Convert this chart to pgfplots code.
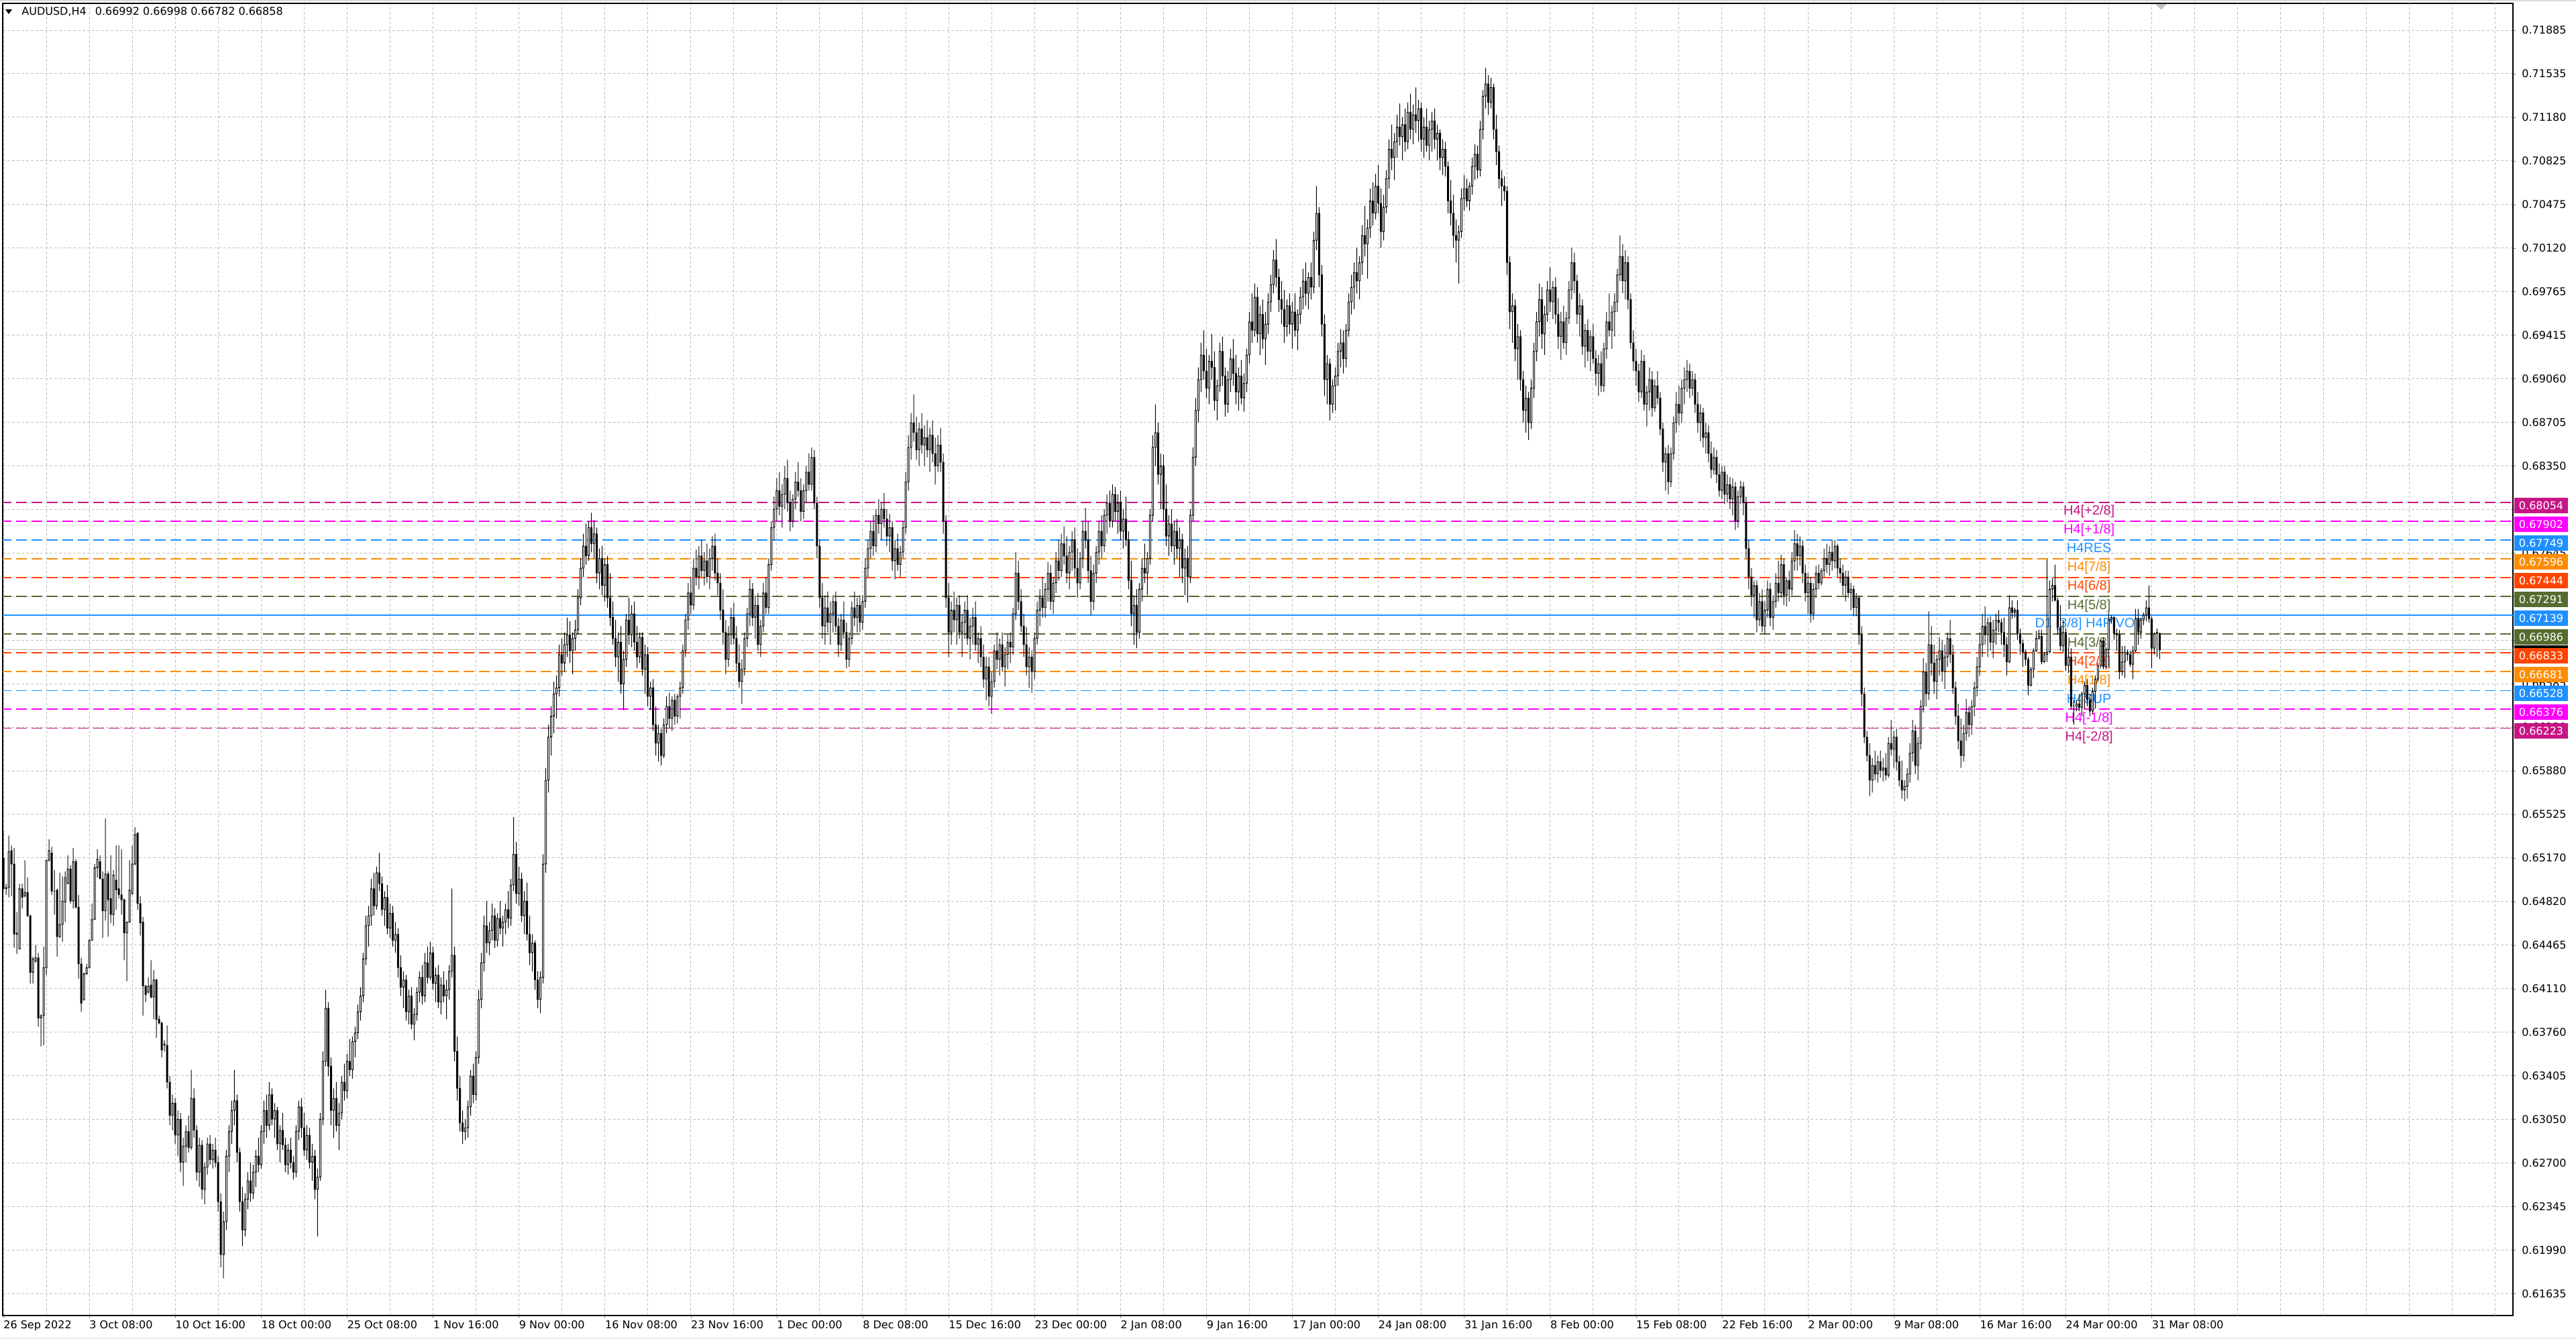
\documentclass[border=0pt]{standalone}
\usepackage{pgfplots}
\pgfplotsset{compat=1.18}
\usepackage{pgfplotstable}
\usepackage{fontspec}
\newfontfamily\dv{DejaVu Sans}
\newfontfamily\lib{Liberation Sans}
\definecolor{mvr}{HTML}{C71585}
\definecolor{mag}{HTML}{FF00FF}
\definecolor{dod}{HTML}{1E90FF}
\definecolor{dor}{HTML}{FF8C00}
\definecolor{orr}{HTML}{FF4500}
\definecolor{olv}{HTML}{556B2F}
\definecolor{grd}{HTML}{C0C0C0}
\pgfplotsset{
  frame/.style={at={(0pt,0pt)}, anchor=south west, scale only axis, width=1871pt, height=978pt,
    xmin=-0.25, xmax=934.55, ymin=6145.7, ymax=7210.3},
  candles/.style={frame, hide axis, ybar stacked, clip=true},
  lvl/.style={line width=0.75pt, dash pattern=on 8pt off 3.5pt},
}
% AUDUSD H4, prices in pips (0.6517 -> 6517)
\pgfplotstableread{
x o h l c
0 6517 6539 6491 6492
1 6492 6496 6487 6493
2 6493 6535 6485 6522
3 6523 6527 6486 6512
4 6512 6525 6444 6455
5 6455 6473 6439 6456
6 6443 6496 6443 6492
7 6492 6496 6476 6485
8 6486 6515 6485 6489
9 6489 6501 6469 6470
10 6470 6471 6415 6424
11 6424 6437 6415 6435
12 6433 6446 6432 6436
13 6436 6440 6380 6387
14 6387 6390 6364 6389
15 6389 6445 6365 6428
16 6428 6515 6422 6515
17 6515 6532 6514 6523
18 6521 6526 6487 6490
19 6490 6507 6471 6490
20 6491 6492 6437 6453
21 6453 6505 6452 6463
22 6463 6502 6449 6482
23 6481 6506 6465 6501
24 6496 6519 6496 6508
25 6508 6511 6480 6482
26 6482 6525 6476 6514
27 6514 6516 6476 6477
28 6477 6487 6419 6431
29 6431 6436 6392 6399
30 6402 6424 6401 6423
31 6423 6431 6422 6428
32 6428 6451 6427 6450
33 6450 6480 6450 6467
34 6467 6512 6467 6509
35 6509 6524 6501 6516
36 6514 6519 6500 6500
37 6500 6506 6452 6474
38 6474 6549 6466 6504
39 6504 6506 6453 6483
40 6484 6519 6464 6471
41 6471 6507 6462 6503
42 6499 6527 6475 6491
43 6492 6527 6484 6487
44 6487 6524 6471 6483
45 6483 6484 6434 6456
46 6456 6465 6417 6465
47 6465 6515 6464 6491
48 6488 6527 6487 6512
49 6512 6542 6511 6536
50 6537 6538 6475 6480
51 6480 6486 6454 6464
52 6465 6469 6389 6413
53 6413 6414 6400 6406
54 6408 6420 6407 6413
55 6414 6434 6403 6404
56 6404 6426 6386 6418
57 6418 6419 6371 6386
58 6386 6389 6382 6383
59 6383 6384 6355 6361
60 6366 6369 6360 6365
61 6365 6381 6330 6335
62 6335 6340 6300 6308
63 6308 6325 6296 6318
64 6318 6322 6285 6292
65 6292 6312 6275 6305
66 6305 6310 6262 6270
67 6270 6290 6251 6283
68 6283 6300 6270 6295
69 6295 6308 6278 6282
70 6282 6345 6280 6322
71 6322 6330 6290 6296
72 6296 6300 6255 6262
73 6262 6290 6250 6284
74 6284 6288 6240 6248
75 6248 6270 6236 6266
76 6266 6290 6260 6285
77 6285 6292 6268 6272
78 6272 6285 6265 6280
79 6280 6290 6266 6270
80 6270 6275 6230 6238
81 6238 6245 6185 6195
82 6195 6230 6176 6222
83 6222 6280 6215 6275
84 6275 6300 6262 6295
85 6295 6320 6285 6312
86 6312 6345 6300 6320
87 6320 6325 6270 6278
88 6278 6282 6230 6238
89 6238 6250 6202 6215
90 6215 6245 6210 6240
91 6240 6262 6232 6255
92 6255 6270 6238 6245
93 6245 6268 6240 6262
94 6262 6280 6250 6275
95 6275 6290 6262 6268
96 6268 6300 6265 6295
97 6295 6320 6285 6312
98 6312 6325 6290 6300
99 6300 6335 6296 6325
100 6325 6330 6300 6305
101 6305 6318 6290 6312
102 6312 6315 6280 6285
103 6285 6300 6270 6296
104 6296 6310 6280 6284
105 6284 6290 6262 6268
106 6268 6285 6260 6280
107 6280 6290 6265 6270
108 6270 6275 6256 6262
109 6262 6300 6258 6295
110 6295 6320 6288 6315
111 6315 6322 6290 6298
112 6298 6310 6275 6280
113 6280 6300 6272 6292
114 6292 6298 6265 6270
115 6270 6285 6255 6275
116 6275 6280 6240 6248
117 6248 6265 6210 6258
118 6258 6310 6255 6305
119 6305 6360 6300 6352
120 6352 6410 6348 6395
121 6395 6400 6340 6348
122 6348 6355 6300 6312
123 6312 6330 6290 6322
124 6322 6335 6295 6300
125 6300 6318 6280 6310
126 6310 6340 6305 6335
127 6335 6350 6320 6328
128 6328 6358 6322 6352
129 6352 6370 6340 6345
130 6345 6372 6338 6368
131 6368 6380 6355 6375
132 6375 6398 6370 6392
133 6392 6412 6385 6405
134 6405 6440 6400 6435
135 6435 6470 6430 6462
136 6462 6478 6445 6470
137 6470 6500 6462 6492
138 6492 6505 6470 6478
139 6478 6510 6475 6505
140 6505 6521 6490 6496
141 6496 6502 6470 6475
142 6475 6490 6462 6485
143 6485 6495 6455 6460
144 6460 6480 6452 6472
145 6472 6478 6445 6450
146 6450 6465 6440 6455
147 6455 6460 6420 6428
148 6428 6438 6405 6412
149 6412 6425 6395 6418
150 6418 6422 6385 6392
151 6392 6410 6382 6405
152 6405 6412 6378 6382
153 6382 6395 6369 6390
154 6390 6412 6385 6408
155 6408 6425 6400 6420
156 6420 6430 6398 6405
157 6405 6440 6400 6432
158 6432 6445 6415 6420
159 6420 6449 6418 6440
160 6440 6445 6410 6415
161 6415 6428 6400 6422
162 6422 6430 6395 6400
163 6400 6420 6390 6414
164 6414 6425 6400 6405
165 6405 6418 6386 6410
166 6410 6430 6402 6425
167 6425 6492 6420 6438
168 6438 6445 6352 6360
169 6360 6372 6320 6330
170 6330 6340 6295 6302
171 6302 6312 6285 6295
172 6295 6305 6288 6298
173 6298 6320 6290 6315
174 6315 6345 6308 6340
175 6340 6350 6318 6325
176 6325 6360 6320 6355
177 6355 6410 6350 6402
178 6402 6440 6395 6432
179 6432 6470 6425 6462
180 6462 6482 6440 6448
181 6448 6465 6438 6458
182 6458 6480 6450 6470
183 6470 6476 6444 6450
184 6450 6472 6445 6468
185 6468 6482 6455 6460
186 6460 6470 6445 6465
187 6465 6480 6455 6475
188 6475 6490 6460 6468
189 6468 6500 6462 6495
190 6495 6550 6490 6520
191 6520 6530 6480 6488
192 6488 6510 6478 6500
193 6500 6505 6465 6470
194 6470 6490 6455 6482
195 6482 6497 6450 6455
196 6455 6470 6430 6440
197 6440 6455 6425 6448
198 6448 6450 6410 6418
199 6418 6425 6395 6402
200 6402 6425 6391 6420
201 6420 6520 6415 6512
202 6512 6590 6505 6580
203 6580 6625 6570 6615
204 6615 6640 6600 6632
205 6632 6660 6618 6650
206 6650 6665 6630 6655
207 6655 6690 6648 6682
208 6682 6695 6665 6675
209 6675 6700 6668 6690
210 6690 6712 6680 6698
211 6698 6709 6675 6685
212 6685 6700 6666 6695
213 6695 6710 6685 6702
214 6702 6735 6698 6728
215 6728 6760 6722 6752
216 6752 6780 6745 6770
217 6770 6788 6755 6762
218 6762 6790 6758 6785
219 6785 6797 6765 6772
220 6772 6791 6760 6780
221 6780 6785 6740 6748
222 6748 6768 6735 6760
223 6760 6770 6730 6738
224 6738 6760 6725 6755
225 6755 6762 6720 6728
226 6728 6748 6705 6712
227 6712 6725 6690 6695
228 6695 6710 6672 6680
229 6680 6700 6660 6692
230 6692 6705 6650 6658
231 6658 6685 6637 6678
232 6678 6715 6672 6710
233 6710 6728 6690 6698
234 6698 6722 6688 6715
235 6715 6725 6685 6692
236 6692 6705 6671 6680
237 6680 6700 6675 6696
238 6696 6700 6665 6670
239 6670 6690 6650 6682
240 6682 6688 6640 6648
241 6648 6660 6637 6655
242 6655 6662 6620 6625
243 6625 6640 6600 6610
244 6610 6625 6595 6618
245 6618 6622 6592 6600
246 6600 6630 6598 6625
247 6625 6648 6618 6640
248 6640 6651 6622 6630
249 6630 6648 6620 6645
250 6645 6650 6625 6632
251 6632 6650 6626 6648
252 6648 6660 6630 6655
253 6655 6690 6650 6685
254 6685 6715 6680 6710
255 6710 6740 6702 6732
256 6732 6745 6715 6722
257 6722 6760 6718 6752
258 6752 6767 6738 6745
259 6745 6770 6735 6762
260 6762 6775 6745 6750
261 6750 6765 6738 6758
262 6758 6772 6740 6745
263 6745 6768 6735 6760
264 6760 6778 6750 6770
265 6770 6780 6742 6748
266 6748 6760 6730 6740
267 6740 6748 6710 6718
268 6718 6735 6690 6700
269 6700 6710 6666 6678
270 6678 6705 6672 6698
271 6698 6720 6690 6712
272 6712 6724 6690 6695
273 6695 6705 6668 6675
274 6675 6690 6655 6660
275 6660 6678 6642 6670
276 6670 6700 6665 6695
277 6695 6720 6688 6715
278 6715 6743 6705 6735
279 6735 6740 6705 6712
280 6712 6730 6695 6722
281 6722 6732 6685 6690
282 6690 6710 6680 6705
283 6705 6740 6700 6732
284 6732 6745 6715 6720
285 6720 6760 6715 6755
286 6755 6790 6750 6785
287 6785 6810 6775 6800
288 6800 6825 6790 6815
289 6815 6830 6795 6802
290 6802 6820 6785 6812
291 6812 6835 6800 6825
292 6825 6840 6798 6805
293 6805 6815 6782 6790
294 6790 6812 6785 6808
295 6808 6830 6800 6822
296 6822 6838 6810 6815
297 6815 6825 6790 6798
298 6798 6820 6792 6815
299 6815 6835 6805 6830
300 6830 6845 6815 6820
301 6820 6850 6815 6842
302 6842 6848 6800 6805
303 6805 6810 6760 6770
304 6770 6775 6720 6728
305 6728 6740 6695 6705
306 6705 6730 6690 6720
307 6720 6733 6700 6708
308 6708 6725 6690 6715
309 6715 6730 6700 6725
310 6725 6733 6700 6705
311 6705 6712 6680 6690
312 6690 6715 6685 6710
313 6710 6725 6695 6700
314 6700 6708 6671 6678
315 6678 6700 6672 6695
316 6695 6725 6690 6720
317 6720 6733 6705 6712
318 6712 6728 6700 6722
319 6722 6730 6700 6708
320 6708 6730 6702 6725
321 6725 6760 6720 6752
322 6752 6775 6745 6768
323 6768 6790 6760 6782
324 6782 6795 6762 6770
325 6770 6800 6765 6795
326 6795 6808 6780 6788
327 6788 6805 6775 6800
328 6800 6813 6785 6792
329 6792 6800 6770 6778
330 6778 6796 6765 6785
331 6785 6790 6750 6758
332 6758 6775 6743 6768
333 6768 6780 6750 6755
334 6755 6770 6745 6765
335 6765 6790 6760 6785
336 6785 6830 6780 6822
337 6822 6860 6815 6850
338 6850 6878 6840 6870
339 6870 6893 6855 6862
340 6862 6875 6840 6848
341 6848 6870 6835 6865
342 6865 6878 6845 6852
343 6852 6868 6835 6858
344 6858 6872 6842 6848
345 6848 6866 6830 6860
346 6860 6872 6838 6845
347 6845 6858 6820 6835
348 6835 6860 6830 6852
349 6852 6866 6830 6838
350 6838 6845 6780 6790
351 6790 6795 6720 6728
352 6728 6740 6680 6700
353 6700 6725 6690 6718
354 6718 6733 6700 6710
355 6710 6728 6690 6722
356 6722 6730 6695 6700
357 6700 6715 6680 6708
358 6708 6725 6695 6718
359 6718 6730 6690 6695
360 6695 6712 6678 6705
361 6705 6720 6690 6712
362 6712 6725 6685 6690
363 6690 6700 6675 6695
364 6695 6705 6672 6680
365 6680 6690 6655 6662
366 6662 6680 6645 6672
367 6672 6680 6640 6648
368 6648 6668 6634 6660
369 6660 6690 6655 6685
370 6685 6700 6670 6678
371 6678 6695 6665 6690
372 6690 6700 6668 6672
373 6672 6688 6656 6682
374 6682 6698 6670 6692
375 6692 6700 6675 6688
376 6688 6720 6682 6715
377 6715 6765 6710 6748
378 6748 6758 6718 6725
379 6725 6735 6700 6705
380 6705 6715 6680 6690
381 6690 6704 6665 6672
382 6672 6688 6655 6680
383 6680 6685 6651 6668
384 6668 6700 6662 6695
385 6695 6725 6690 6718
386 6718 6735 6705 6728
387 6728 6745 6712 6720
388 6720 6740 6712 6735
389 6735 6757 6725 6748
390 6748 6755 6718 6725
391 6725 6745 6715 6740
392 6740 6765 6732 6758
393 6758 6775 6742 6750
394 6750 6780 6745 6772
395 6772 6786 6755 6762
396 6762 6778 6740 6748
397 6748 6770 6735 6765
398 6765 6782 6750 6775
399 6775 6785 6745 6752
400 6752 6768 6728 6740
401 6740 6765 6735 6760
402 6760 6790 6752 6782
403 6782 6801 6768 6775
404 6775 6790 6740 6750
405 6750 6762 6714 6725
406 6725 6755 6718 6748
407 6748 6770 6740 6765
408 6765 6790 6755 6782
409 6782 6795 6760 6770
410 6770 6800 6765 6795
411 6795 6812 6780 6805
412 6805 6815 6785 6790
413 6790 6820 6785 6812
414 6812 6818 6790 6798
415 6798 6812 6780 6805
416 6805 6815 6775 6782
417 6782 6800 6768 6792
418 6792 6810 6770 6775
419 6775 6782 6735 6742
420 6742 6758 6705 6715
421 6715 6730 6690 6722
422 6722 6735 6687 6700
423 6700 6740 6695 6735
424 6735 6760 6725 6752
425 6752 6772 6740 6748
426 6748 6765 6730 6760
427 6760 6800 6755 6795
428 6795 6860 6790 6850
429 6850 6885 6835 6862
430 6862 6870 6820 6828
431 6828 6845 6800 6835
432 6835 6844 6790 6800
433 6800 6820 6770 6778
434 6778 6795 6762 6788
435 6788 6800 6765 6770
436 6770 6790 6755 6782
437 6782 6792 6760 6768
438 6768 6785 6745 6775
439 6775 6780 6740 6752
440 6752 6768 6730 6760
441 6760 6770 6724 6745
442 6745 6800 6740 6795
443 6795 6850 6790 6842
444 6842 6890 6835 6880
445 6880 6915 6870 6905
446 6905 6935 6895 6925
447 6925 6945 6905 6912
448 6912 6930 6890 6898
449 6898 6925 6885 6920
450 6920 6942 6905 6915
451 6915 6928 6880 6888
452 6888 6905 6872 6900
453 6900 6935 6895 6928
454 6928 6940 6900 6908
455 6908 6915 6875 6885
456 6885 6912 6878 6905
457 6905 6930 6895 6922
458 6922 6938 6900 6910
459 6910 6925 6885 6895
460 6895 6915 6880 6908
461 6908 6921 6885 6890
462 6890 6910 6879 6902
463 6902 6930 6895 6925
464 6925 6960 6918 6952
465 6952 6975 6935 6945
466 6945 6983 6940 6972
467 6972 6980 6935 6942
468 6942 6965 6925 6958
469 6958 6970 6930 6938
470 6938 6960 6917 6950
471 6950 6975 6942 6968
472 6968 6990 6960 6982
473 6982 7010 6975 7002
474 7002 7019 6980 6988
475 6988 6995 6960 6970
476 6970 6985 6950 6962
477 6962 6978 6935 6948
478 6948 6970 6940 6965
479 6965 6975 6942 6950
480 6950 6968 6930 6960
481 6960 6975 6940 6945
482 6945 6962 6929 6958
483 6958 6980 6950 6972
484 6972 6995 6962 6985
485 6985 7000 6965 6975
486 6975 6992 6962 6988
487 6988 7000 6970 6980
488 6980 7025 6975 7018
489 7018 7062 7010 7040
490 7040 7045 6980 6990
491 6990 6998 6940 6950
492 6950 6958 6892 6905
493 6905 6925 6885 6918
494 6918 6922 6872 6885
495 6885 6905 6878 6900
496 6900 6915 6880 6908
497 6908 6935 6900 6928
498 6928 6946 6915 6935
499 6935 6945 6910 6922
500 6922 6950 6915 6945
501 6945 6975 6940 6968
502 6968 6990 6958 6980
503 6980 7000 6962 6992
504 6992 7012 6975 6985
505 6985 7005 6970 7000
506 7000 7030 6990 7022
507 7022 7046 7005 7015
508 7015 7035 6987 7028
509 7028 7060 7020 7050
510 7050 7065 7030 7040
511 7040 7072 7035 7062
512 7062 7079 7040 7048
513 7048 7060 7012 7025
514 7025 7055 7018 7045
515 7045 7075 7040 7068
516 7068 7100 7060 7092
517 7092 7112 7075 7085
518 7085 7105 7067 7098
519 7098 7120 7085 7110
520 7110 7129 7095 7102
521 7102 7118 7083 7112
522 7112 7125 7090 7098
523 7098 7130 7092 7122
524 7122 7137 7100 7108
525 7108 7128 7096 7120
526 7120 7142 7105 7115
527 7115 7132 7098 7125
528 7125 7130 7090 7100
529 7100 7118 7085 7110
530 7110 7125 7090 7095
531 7095 7115 7083 7108
532 7108 7122 7090 7115
533 7115 7125 7092 7100
534 7100 7112 7083 7105
535 7105 7108 7075 7085
536 7085 7100 7071 7092
537 7092 7098 7070 7078
538 7078 7082 7040 7050
539 7050 7067 7030 7040
540 7040 7055 7012 7022
541 7022 7035 7000 7018
542 7018 7030 6983 7025
543 7025 7060 7020 7052
544 7052 7071 7042 7060
545 7060 7068 7045 7050
546 7050 7065 7042 7062
547 7062 7085 7055 7078
548 7078 7096 7067 7088
549 7088 7095 7068 7075
550 7075 7115 7070 7108
551 7108 7140 7100 7135
552 7135 7158 7125 7145
553 7145 7152 7120 7130
554 7130 7150 7125 7142
555 7142 7145 7100 7108
556 7108 7120 7079 7090
557 7090 7095 7060 7068
558 7068 7075 7046 7062
559 7062 7070 7050 7058
560 7058 7062 6990 7000
561 7000 7005 6946 6960
562 6960 6975 6935 6965
563 6965 6970 6920 6930
564 6930 6950 6905 6940
565 6940 6945 6896 6905
566 6905 6912 6870 6880
567 6880 6900 6862 6890
568 6890 6895 6856 6870
569 6870 6905 6865 6898
570 6898 6935 6890 6928
571 6928 6960 6920 6952
572 6952 6983 6940 6970
573 6970 6980 6930 6942
574 6942 6965 6925 6958
575 6958 6985 6952 6978
576 6978 6996 6960 6968
577 6968 6985 6954 6980
578 6980 6988 6950 6958
579 6958 6971 6930 6940
580 6940 6960 6921 6952
581 6952 6965 6930 6935
582 6935 6960 6925 6955
583 6955 6985 6950 6978
584 6978 7012 6970 7000
585 7000 7008 6975 6985
586 6985 6990 6950 6958
587 6958 6975 6940 6965
588 6965 6970 6925 6932
589 6932 6950 6915 6945
590 6945 6954 6920 6928
591 6928 6945 6912 6940
592 6940 6950 6918 6922
593 6922 6929 6900 6910
594 6910 6925 6892 6918
595 6918 6928 6895 6900
596 6900 6935 6895 6930
597 6930 6960 6922 6952
598 6952 6975 6940 6945
599 6945 6965 6930 6960
600 6960 6975 6940 6968
601 6968 6995 6960 6990
602 6990 7022 6985 7005
603 7005 7015 6975 6985
604 6985 7010 6970 7000
605 7000 7005 6962 6970
606 6970 6975 6930 6935
607 6935 6945 6912 6920
608 6920 6930 6900 6912
609 6912 6918 6887 6895
610 6895 6929 6890 6920
611 6920 6925 6880 6885
612 6885 6900 6867 6895
613 6895 6915 6880 6905
614 6905 6912 6875 6882
615 6882 6905 6879 6900
616 6900 6912 6885 6890
617 6890 6895 6860 6865
618 6865 6870 6830 6838
619 6838 6850 6815 6845
620 6845 6852 6812 6822
621 6822 6850 6818 6845
622 6845 6875 6840 6870
623 6870 6895 6862 6885
624 6885 6900 6868 6878
625 6878 6905 6870 6898
626 6898 6915 6885 6905
627 6905 6921 6895 6912
628 6912 6918 6890 6898
629 6898 6912 6892 6905
630 6905 6910 6878 6885
631 6885 6895 6862 6870
632 6870 6885 6855 6878
633 6878 6882 6850 6858
634 6858 6870 6845 6862
635 6862 6868 6838 6845
636 6845 6855 6825 6832
637 6832 6850 6828 6842
638 6842 6848 6821 6828
639 6828 6837 6810 6815
640 6815 6835 6808 6830
641 6830 6835 6804 6812
642 6812 6828 6805 6820
643 6820 6826 6800 6808
644 6808 6825 6795 6818
645 6818 6822 6783 6790
646 6790 6815 6785 6810
647 6810 6823 6804 6818
648 6818 6822 6795 6805
649 6805 6810 6760 6768
650 6768 6775 6735 6745
651 6745 6752 6721 6730
652 6730 6742 6712 6738
653 6738 6742 6700 6710
654 6710 6732 6705 6725
655 6725 6735 6700 6705
656 6705 6725 6698 6718
657 6718 6742 6712 6735
658 6735 6740 6705 6712
659 6712 6730 6702 6725
660 6725 6748 6720 6740
661 6740 6758 6725 6732
662 6732 6763 6728 6755
663 6755 6760 6722 6730
664 6730 6745 6721 6742
665 6742 6750 6725 6735
666 6735 6765 6730 6758
667 6758 6783 6750 6772
668 6772 6780 6750 6762
669 6762 6778 6754 6770
670 6770 6775 6740 6748
671 6748 6755 6725 6732
672 6732 6748 6715 6740
673 6740 6745 6708 6715
674 6715 6740 6710 6735
675 6735 6754 6728 6748
676 6748 6755 6735 6740
677 6740 6752 6738 6750
678 6750 6768 6745 6760
679 6760 6772 6748 6755
680 6755 6770 6746 6765
681 6765 6775 6750 6758
682 6758 6775 6752 6770
683 6770 6772 6745 6752
684 6752 6760 6740 6748
685 6748 6755 6730 6738
686 6738 6750 6725 6745
687 6745 6750 6728 6732
688 6732 6740 6718 6735
689 6735 6738 6713 6720
690 6720 6732 6713 6728
691 6728 6730 6690 6698
692 6698 6705 6640 6650
693 6650 6655 6610 6615
694 6615 6620 6595 6600
695 6600 6610 6567 6580
696 6580 6598 6570 6592
697 6592 6604 6580 6585
698 6585 6600 6578 6595
699 6595 6604 6582 6588
700 6588 6598 6579 6590
701 6590 6602 6580 6584
702 6584 6615 6582 6610
703 6610 6629 6600 6605
704 6605 6620 6590 6615
705 6615 6622 6588 6595
706 6595 6600 6575 6580
707 6580 6596 6565 6572
708 6572 6580 6563 6575
709 6575 6590 6565 6585
710 6585 6610 6578 6602
711 6602 6629 6595 6620
712 6620 6625 6585 6592
713 6592 6615 6580 6610
714 6610 6645 6605 6640
715 6640 6679 6635 6668
716 6668 6675 6640 6650
717 6650 6717 6645 6690
718 6690 6705 6665 6675
719 6675 6690 6650 6660
720 6660 6682 6646 6678
721 6678 6696 6665 6685
722 6685 6694 6660 6668
723 6668 6690 6654 6680
724 6680 6700 6672 6695
725 6695 6710 6675 6682
726 6682 6690 6650 6655
727 6655 6660 6625 6632
728 6632 6642 6605 6612
729 6612 6630 6590 6600
730 6600 6625 6595 6618
731 6618 6646 6612 6635
732 6635 6640 6615 6625
733 6625 6645 6617 6640
734 6640 6660 6632 6655
735 6655 6680 6648 6672
736 6672 6700 6665 6690
737 6690 6715 6680 6705
738 6705 6721 6690 6698
739 6698 6712 6680 6708
740 6708 6713 6685 6692
741 6692 6710 6679 6702
742 6702 6715 6690 6710
743 6710 6718 6700 6708
744 6708 6711 6690 6700
745 6700 6712 6680 6690
746 6690 6696 6665 6676
747 6676 6730 6675 6720
748 6720 6726 6711 6716
749 6716 6720 6712 6718
750 6718 6726 6694 6699
751 6699 6703 6682 6691
752 6691 6694 6672 6684
753 6684 6686 6673 6678
754 6678 6680 6649 6657
755 6657 6672 6656 6670
756 6670 6687 6663 6685
757 6685 6701 6684 6695
758 6695 6702 6694 6697
759 6697 6702 6674 6676
760 6676 6684 6675 6682
761 6682 6759 6676 6684
762 6684 6742 6683 6735
763 6735 6744 6725 6738
764 6738 6755 6725 6726
765 6726 6728 6698 6704
766 6704 6722 6685 6689
767 6689 6710 6684 6700
768 6700 6703 6669 6673
769 6673 6688 6667 6680
770 6680 6687 6638 6640
771 6640 6645 6625 6640
772 6640 6645 6636 6642
773 6642 6650 6636 6639
774 6639 6652 6632 6650
775 6650 6660 6638 6657
776 6657 6662 6640 6645
777 6645 6650 6632 6636
778 6636 6655 6634 6652
779 6652 6665 6638 6662
780 6662 6675 6660 6673
781 6673 6694 6671 6693
782 6693 6696 6670 6672
783 6672 6688 6670 6686
784 6686 6716 6672 6710
785 6710 6714 6707 6712
786 6712 6713 6694 6699
787 6699 6703 6685 6698
788 6698 6702 6662 6668
789 6668 6689 6665 6676
790 6676 6689 6663 6684
791 6684 6686 6677 6682
792 6682 6685 6672 6674
793 6674 6689 6662 6685
794 6685 6719 6684 6711
795 6711 6719 6690 6700
796 6700 6712 6695 6710
797 6710 6716 6706 6714
798 6714 6726 6709 6720
799 6720 6738 6708 6711
800 6711 6713 6671 6687
801 6687 6700 6682 6699
802 6699 6703 6680 6700
803 6699.2 6699.8 6678.2 6685.8
}\ohlc

\begin{document}
\begin{tikzpicture}
\useasboundingbox (-2pt,-17.5pt) rectangle (1918pt,980.5pt);
\fill[grd!60] (-2pt,979.3pt) rectangle (1918pt,980.5pt);
\fill[grd!35] (-2pt,-17.5pt) rectangle (1918pt,-16.3pt);
% frame, grid, ticks, levels
\begin{axis}[
  frame,
  axis line style={black, line width=0.6pt},
  xtick pos=left, ytick pos=right,
  tick align=outside,
  major tick length=2pt, minor tick length=0pt,
  xtick={0,32,...,800},
  xticklabels={26 Sep 2022,3 Oct 08:00,10 Oct 16:00,18 Oct 00:00,25 Oct 08:00,1 Nov 16:00,9 Nov 00:00,16 Nov 08:00,23 Nov 16:00,1 Dec 00:00,8 Dec 08:00,15 Dec 16:00,23 Dec 00:00,2 Jan 08:00,9 Jan 16:00,17 Jan 00:00,24 Jan 08:00,31 Jan 16:00,8 Feb 00:00,15 Feb 08:00,22 Feb 16:00,2 Mar 00:00,9 Mar 08:00,16 Mar 16:00,24 Mar 00:00,31 Mar 08:00},
  minor xtick={16,48,...,912},
  extra x ticks={832,864,896,928},
  extra x tick labels={},
  extra x tick style={major tick length=0pt},
  xminorgrids=true, xmajorgrids=true,
  ytick={7188.50,7153.16,7117.81,7082.47,7047.12,7011.78,6976.43,6941.09,6905.74,6870.40,6835.05,6799.71,6764.36,6729.02,6693.67,6658.33,6622.98,6587.64,6552.29,6516.95,6481.60,6446.26,6410.91,6375.57,6340.22,6304.88,6269.53,6234.19,6198.84,6163.50},
  yticklabels={0.71885,0.71535,0.71180,0.70825,0.70475,0.70120,0.69765,0.69415,0.69060,0.68705,0.68350,0.67995,0.67645,0.67290,0.66935,0.66585,0.66230,0.65880,0.65525,0.65170,0.64820,0.64465,0.64110,0.63760,0.63405,0.63050,0.62700,0.62345,0.61990,0.61635},
  ymajorgrids=true,
  major grid style={draw=grd, line width=0.5pt, dash pattern=on 2pt off 1.5pt},
  minor grid style={draw=grd, line width=0.5pt, dash pattern=on 2pt off 1.5pt},
  xticklabel style={font=\dv\fontsize{8}{9.6}\selectfont, anchor=north west, inner sep=0pt, yshift=-1.5pt},
  yticklabel style={font=\dv\fontsize{8}{9.6}\selectfont, anchor=west, inner sep=0pt, xshift=4.5pt},
  scaled y ticks=false,
]
\addplot[mvr, lvl] coordinates {(-1,6805.4) (940,6805.4)};
\addplot[mag, lvl] coordinates {(-1,6790.2) (940,6790.2)};
\addplot[dod, lvl] coordinates {(-1,6774.9) (940,6774.9)};
\addplot[dor, lvl] coordinates {(-1,6759.6) (940,6759.6)};
\addplot[orr, lvl] coordinates {(-1,6744.4) (940,6744.4)};
\addplot[olv, lvl] coordinates {(-1,6729.1) (940,6729.1)};
\addplot[dod, line width=0.75pt] coordinates {(-1,6713.9) (940,6713.9)};
\addplot[olv, lvl] coordinates {(-1,6698.6) (940,6698.6)};
\addplot[orr, lvl] coordinates {(-1,6683.3) (940,6683.3)};
\addplot[dor, lvl] coordinates {(-1,6668.1) (940,6668.1)};
\addplot[dod, lvl] coordinates {(-1,6652.8) (940,6652.8)};
\addplot[mag, lvl] coordinates {(-1,6637.6) (940,6637.6)};
\addplot[mvr, lvl] coordinates {(-1,6622.3) (940,6622.3)};
\addplot[grd, line width=0.6pt] coordinates {(-1,6685.8) (940,6685.8)};
\node[text=mvr, font=\lib\fontsize{10}{12}\selectfont, anchor=base, inner sep=0pt] at (axis cs:776.7,6795.1) {H4[+2/8]};
\node[text=mag, font=\lib\fontsize{10}{12}\selectfont, anchor=base, inner sep=0pt] at (axis cs:776.7,6779.9) {H4[+1/8]};
\node[text=dod, font=\lib\fontsize{10}{12}\selectfont, anchor=base, inner sep=0pt] at (axis cs:776.7,6764.6) {H4RES};
\node[text=dor, font=\lib\fontsize{10}{12}\selectfont, anchor=base, inner sep=0pt] at (axis cs:776.7,6749.3) {H4[7/8]};
\node[text=orr, font=\lib\fontsize{10}{12}\selectfont, anchor=base, inner sep=0pt] at (axis cs:776.7,6734.1) {H4[6/8]};
\node[text=olv, font=\lib\fontsize{10}{12}\selectfont, anchor=base, inner sep=0pt] at (axis cs:776.7,6718.8) {H4[5/8]};
\node[text=dod, font=\lib\fontsize{10}{12}\selectfont, anchor=base, inner sep=0pt] at (axis cs:776.7,6703.6) {D1 [3/8] H4PIVOT};
\node[text=olv, font=\lib\fontsize{10}{12}\selectfont, anchor=base, inner sep=0pt] at (axis cs:776.7,6688.3) {H4[3/8]};
\node[text=orr, font=\lib\fontsize{10}{12}\selectfont, anchor=base, inner sep=0pt] at (axis cs:776.7,6673.0) {H4[2/8]};
\node[text=dor, font=\lib\fontsize{10}{12}\selectfont, anchor=base, inner sep=0pt] at (axis cs:776.7,6657.8) {H4[1/8]};
\node[text=dod, font=\lib\fontsize{10}{12}\selectfont, anchor=base, inner sep=0pt] at (axis cs:776.7,6642.5) {H4SUP};
\node[text=mag, font=\lib\fontsize{10}{12}\selectfont, anchor=base, inner sep=0pt] at (axis cs:776.7,6627.3) {H4[-1/8]};
\node[text=mvr, font=\lib\fontsize{10}{12}\selectfont, anchor=base, inner sep=0pt] at (axis cs:776.7,6612.0) {H4[-2/8]};
\end{axis}
% wicks: invisible base up to the low, then a thin black bar from low to high
\begin{axis}[candles, bar width=0.5pt]
\addplot[draw=none, fill=none] table[x=x, y=l] {\ohlc};
\addplot[draw=none, fill=black] table[x=x, y expr={\thisrow{h}-\thisrow{l}}] {\ohlc};
\end{axis}
% bodies: base up to the lower of open/close, then the body
\begin{axis}[candles, bar width=1.5pt]
\addplot[draw=none, fill=none] table[x=x, y expr={min(\thisrow{o},\thisrow{c})-0.15}] {\ohlc};
\addplot[draw=none, fill=black] table[x=x, y expr={abs(\thisrow{c}-\thisrow{o})+0.3}] {\ohlc};
\end{axis}
% white inside of rising candles
\begin{axis}[candles, bar width=0.5pt]
\addplot[draw=none, fill=none] table[x=x, y expr={min(\thisrow{o},\thisrow{c})+0.55}] {\ohlc};
\addplot[draw=none, fill=white] table[x=x, y expr={max(0,\thisrow{c}-\thisrow{o}-1.1)}] {\ohlc};
\end{axis}
% price boxes on the right
\begin{axis}[frame, hide axis, clip=false]
\coordinate (P0) at (axis cs:945.05,6683.35);
\coordinate (B1) at (axis cs:945.05,6802.95);
\coordinate (B2) at (axis cs:945.05,6787.75);
\coordinate (B3) at (axis cs:945.05,6772.45);
\coordinate (B4) at (axis cs:945.05,6757.15);
\coordinate (B5) at (axis cs:945.05,6741.95);
\coordinate (B6) at (axis cs:945.05,6726.65);
\coordinate (B7) at (axis cs:945.05,6711.45);
\coordinate (B8) at (axis cs:945.05,6696.15);
\coordinate (B9) at (axis cs:945.05,6680.85);
\coordinate (B10) at (axis cs:945.05,6665.65);
\coordinate (B11) at (axis cs:945.05,6650.35);
\coordinate (B12) at (axis cs:945.05,6635.15);
\coordinate (B13) at (axis cs:945.05,6619.85);
\end{axis}
\begin{scope}[every node/.style={minimum width=40pt, minimum height=11.5pt, inner sep=0pt, text=white, font=\dv\fontsize{8}{9.6}\selectfont}]
\node[fill=black] at (P0) {0.66858};
\node[fill=mvr] at (B1) {0.68054};
\node[fill=mag] at (B2) {0.67902};
\node[fill=dod] at (B3) {0.67749};
\node[fill=dor] at (B4) {0.67596};
\node[fill=orr] at (B5) {0.67444};
\node[fill=olv] at (B6) {0.67291};
\node[fill=dod] at (B7) {0.67139};
\node[fill=olv] at (B8) {0.66986};
\node[fill=orr] at (B9) {0.66833};
\node[fill=dor] at (B10) {0.66681};
\node[fill=dod] at (B11) {0.66528};
\node[fill=mag] at (B12) {0.66376};
\node[fill=mvr] at (B13) {0.66223};
\end{scope}
% header
\fill[black] (2pt,973.5pt) -- (7pt,973.5pt) -- (4.5pt,970pt) -- cycle;
\node[anchor=west, inner sep=0pt, font=\dv\fontsize{8}{9.6}\selectfont] at (14pt,971.6pt) {AUDUSD,H4\hspace{6.5pt}0.66992 0.66998 0.66782 0.66858};
% chart shift marker
\fill[grd] (1604.5pt,977.6pt) -- (1613pt,977.6pt) -- (1608.75pt,973.3pt) -- cycle;
\end{tikzpicture}
\end{document}
